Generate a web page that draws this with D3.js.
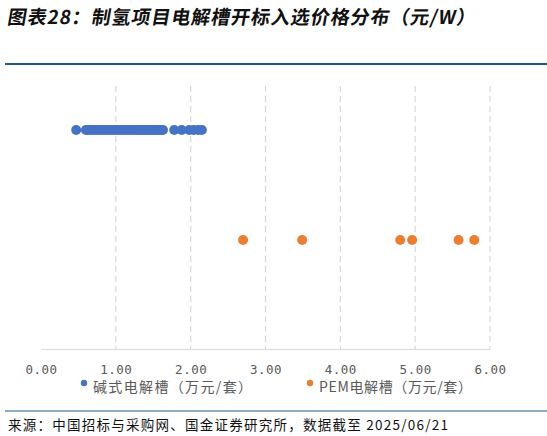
<!DOCTYPE html>
<html><head><meta charset="utf-8">
<script src="https://cdn.jsdelivr.net/npm/d3@7"></script>
<style>
body{margin:0;background:#fff;}
svg{display:block;}
</style></head>
<body>
<svg id="c" width="547" height="436"></svg>
<script>
const title = "图表28：制氢项目电解槽开标入选价格分布（元/W）";
const source = "来源：中国招标与采购网、国金证券研究所，数据截至 2025/06/21";
const seriesNames = ["碱式电解槽（万元/套）", "PEM电解槽（万元/套）"];
const alkalineValues = [0.47,0.60,0.63,0.67,0.71,0.75,0.79,0.83,0.87,0.91,0.95,0.99,1.03,1.07,1.11,1.15,1.19,1.23,1.27,1.30,1.33,1.36,1.39,1.42,1.45,1.48,1.51,1.54,1.57,1.60,1.63,1.78,1.88,1.98,2.04,2.10,2.15];
const pemValues = [2.70,3.49,4.80,4.96,5.58,5.79];
const xTicks = [0,1,2,3,4,5,6];
const colors = ["#4472C4","#ED7D31"];

const svg = d3.select("#c");
const font = "'Noto Sans CJK SC','Noto Sans',sans-serif";

svg.append("text").attr("x",8).attr("y",24)
  .attr("font-family",font).attr("font-size",19).attr("font-weight",700)
  .attr("fill","#111")
  .attr("transform","translate(3,0) skewX(-10)")
  .attr("textLength",468).attr("lengthAdjust","spacing")
  .text(title);
svg.append("line").attr("x1",5).attr("x2",547).attr("y1",64).attr("y2",64)
  .attr("stroke","#1F5C8B").attr("stroke-width",2);

const x = d3.scaleLinear().domain([0,6]).range([41,490]);
const yTop = 86, yBase = 349;

// gridlines
svg.append("g").selectAll("line").data(xTicks.slice(1)).join("line")
  .attr("x1",d=>x(d)).attr("x2",d=>x(d)).attr("y1",yTop).attr("y2",yBase)
  .attr("stroke","#D9D9D9").attr("stroke-width",1.2).attr("stroke-dasharray","6,4");

// axis
const ax = svg.append("g").attr("transform",`translate(0,${yBase})`)
  .call(d3.axisBottom(x).tickValues(xTicks).tickSize(0).tickFormat(d=>d3.format(".2f")(d)));
ax.select(".domain").attr("stroke","#D9D9D9").attr("stroke-width",1.2);
ax.selectAll("text").attr("dy",0).attr("y",25)
  .attr("font-family","'DejaVu Sans Mono',monospace").attr("font-size",12.5)
  .attr("fill","#595959").attr("letter-spacing","0.5px");

// dots
svg.append("g").selectAll("circle").data(alkalineValues).join("circle")
  .attr("cx",d=>x(d)).attr("cy",130).attr("r",5).attr("fill",colors[0]);
svg.append("g").selectAll("circle").data(pemValues).join("circle")
  .attr("cx",d=>x(d)).attr("cy",240).attr("r",5).attr("fill",colors[1]);

// legend
const legX = [84, 310];
const legW = [159, 153];
seriesNames.forEach((n,i)=>{
  svg.append("circle").attr("cx",legX[i]).attr("cy",383).attr("r",3.2).attr("fill",colors[i]);
  svg.append("text").attr("x",legX[i]+9).attr("y",392)
    .attr("font-family",font).attr("font-size",14).attr("fill","#595959")
    .attr("textLength",legW[i]).attr("lengthAdjust","spacing").text(n);
});

svg.append("line").attr("x1",5).attr("x2",547).attr("y1",411).attr("y2",411)
  .attr("stroke","#1F5C8B").attr("stroke-width",1.2);
svg.append("text").attr("x",8).attr("y",430)
  .attr("font-family",font).attr("font-size",13.5).attr("fill","#111")
  .attr("textLength",440).attr("lengthAdjust","spacing").text(source);
</script>
</body></html>
